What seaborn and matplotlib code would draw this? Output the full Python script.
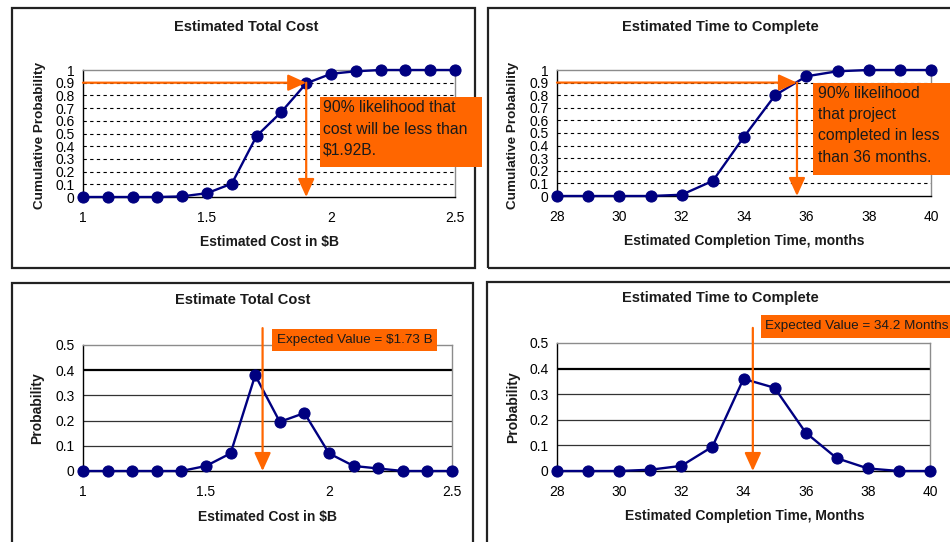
# Monte Carlo project estimate - cost and schedule distributions
import matplotlib
matplotlib.use('Agg')
import matplotlib.pyplot as plt
from matplotlib.patches import Rectangle
from matplotlib.ticker import FormatStrFormatter
import seaborn as sns
import pandas as pd

# data
cost_b = [1.0, 1.1, 1.2, 1.3, 1.4, 1.5, 1.6, 1.7, 1.8, 1.9, 2.0, 2.1, 2.2, 2.3, 2.4, 2.5]
cost_cum = [0, 0, 0, 0, 0.005, 0.03, 0.105, 0.48, 0.67, 0.895, 0.97, 0.99, 1.0, 1.0, 1.0, 1.0]
cost_prob = [0, 0, 0, 0, 0, 0.02, 0.07, 0.38, 0.195, 0.23, 0.07, 0.02, 0.01, 0, 0, 0]

months = [28, 29, 30, 31, 32, 33, 34, 35, 36, 37, 38, 39, 40]
time_cum = [0, 0, 0, 0, 0.01, 0.12, 0.47, 0.80, 0.95, 0.99, 1.0, 1.0, 1.0]
time_prob = [0, 0, 0, 0.005, 0.02, 0.095, 0.36, 0.325, 0.15, 0.05, 0.01, 0, 0]

cost_p90 = 1.9
time_p90 = 35.7
cost_ev = 1.73
time_ev = 34.3

sns.set_style('white')
plt.rcParams['font.family'] = ['Liberation Sans', 'DejaVu Sans']

W, H = 950, 542
NAVY = '#000080'
ORANGE = '#FF6600'
TXT = '#1a1a1a'


def fx(x):
    return x / W


def fy(y):
    return 1 - y / H


def rect(l, t, r, b):
    return [fx(l), fy(b), fx(r - l), (b - t) / H]


fig = plt.figure(figsize=(9.5, 5.42), dpi=100)

# panel frames
for l, t, r, b in [(12, 8, 475, 268), (488, 8, 960, 268), (12, 283, 473, 560), (487, 282, 960, 560)]:
    fig.add_artist(Rectangle((fx(l), fy(b)), fx(r - l), (b - t) / H, transform=fig.transFigure,
                             fill=False, ec='#222222', lw=1.6))


def setup_axes(ax, box, ymax, ystep, xticks, xlim, cumulative):
    ax.set_xlim(xlim)
    ax.set_ylim(0, ymax)
    ax.set_xticks(xticks)
    n = int(round(ymax / ystep))
    ax.set_yticks([i * ystep for i in range(n + 1)])
    ax.yaxis.set_major_formatter(FormatStrFormatter('%g'))
    ax.xaxis.set_major_formatter(FormatStrFormatter('%g'))
    ax.tick_params(axis='both', labelsize=10, colors='black', direction='inout',
                   length=6, width=0.8, pad=3)
    ax.tick_params(axis='x', pad=7)
    for s in ['left', 'bottom']:
        ax.spines[s].set_color('black')
        ax.spines[s].set_linewidth(1)
    for s in ['top', 'right']:
        ax.spines[s].set_color('#8c8c8c')
        ax.spines[s].set_linewidth(1)
    grid_vals = [i * ystep for i in range(1, n)]
    for g in grid_vals:
        if cumulative:
            ax.axhline(g, color='black', lw=0.8, ls=(0, (3, 3)), zorder=1)
        else:
            heavy = abs(g - 0.4) < 1e-9
            ax.axhline(g, color='black' if heavy else '#333333',
                       lw=1.6 if heavy else 0.9, zorder=1)


def draw_series(ax, x, y):
    df = pd.DataFrame({'x': x, 'y': y})
    sns.lineplot(data=df, x='x', y='y', ax=ax, color=NAVY, lw=1.7, marker='o',
                 markersize=8, markeredgecolor=NAVY, markerfacecolor=NAVY,
                 clip_on=False, zorder=5)


def arrow(ax, start, end):
    ax.annotate('', xy=end, xytext=start, xycoords='data', textcoords='data',
                annotation_clip=False,
                arrowprops=dict(arrowstyle='-|>,head_length=0.55,head_width=0.25',
                                mutation_scale=20, color=ORANGE, lw=1.6,
                                shrinkA=0, shrinkB=0), zorder=6)


def label_box(l, t, r, b, lines, text_x, line_ys, size):
    fig.add_artist(Rectangle((fx(l), fy(b)), fx(r - l), (b - t) / H, transform=fig.transFigure,
                             fc=ORANGE, ec='none', zorder=10))
    for line, y in zip(lines, line_ys):
        fig.text(fx(text_x), fy(y), line, fontsize=size, color=TXT, ha='left', va='center', zorder=11)


def labels(ax, title, title_xy, xlabel, xlabel_xy, ylabel, ylabel_x, ylabel_y, ysize):
    fig.text(fx(title_xy[0]), fy(title_xy[1]), title, fontsize=10.5, fontweight='bold',
             ha='center', va='center', color=TXT)
    ax.set_xlabel(xlabel, fontsize=10, fontweight='bold', color=TXT)
    ax.xaxis.set_label_coords(fx(xlabel_xy[0]), fy(xlabel_xy[1]), transform=fig.transFigure)
    ax.xaxis.label.set_va('center')
    ax.set_ylabel(ylabel, fontsize=ysize, fontweight='bold', color=TXT)
    ax.yaxis.set_label_coords(fx(ylabel_x), fy(ylabel_y), transform=fig.transFigure)
    ax.yaxis.label.set_va('center')


# ---- top left: cumulative cost ----
box = (83, 70, 455, 197)
ax1 = fig.add_axes(rect(*box))
draw_series(ax1, cost_b, cost_cum)
setup_axes(ax1, box, 1.0, 0.1, [1, 1.5, 2, 2.5], (1, 2.5), True)
labels(ax1, 'Estimated Total Cost', (246, 27), 'Estimated Cost in $B', (269, 242),
       'Cumulative Probability', 40, 135, 9.7)
arrow(ax1, (1.0, 0.9), (cost_p90, 0.9))
arrow(ax1, (cost_p90, 0.9), (cost_p90, 0.0))
label_box(320, 97, 482, 167, ['90% likelihood that', 'cost will be less than', '$1.92B.'],
          323, [108, 129, 150], 11.3)

# ---- top right: cumulative time ----
box = (557, 70, 931, 196)
ax2 = fig.add_axes(rect(*box))
draw_series(ax2, months, time_cum)
setup_axes(ax2, box, 1.0, 0.1, list(range(28, 41, 2)), (28, 40), True)
labels(ax2, 'Estimated Time to Complete', (720, 27), 'Estimated Completion Time, months',
       (744, 241), 'Cumulative Probability', 513, 135, 9.7)
arrow(ax2, (28, 0.9), (time_p90, 0.9))
arrow(ax2, (time_p90, 0.9), (time_p90, 0.0))
label_box(813, 83, 960, 175, ['90% likelihood', 'that project', 'completed in less', 'than 36 months.'],
          818, [94, 115, 136, 157], 11.3)

# ---- bottom left: cost probability ----
box = (83, 345, 452, 471)
ax3 = fig.add_axes(rect(*box))
draw_series(ax3, cost_b, cost_prob)
setup_axes(ax3, box, 0.5, 0.1, [1, 1.5, 2, 2.5], (1, 2.5), False)
labels(ax3, 'Estimate Total Cost', (243, 300), 'Estimated Cost in $B', (268, 517),
       'Probability', 37, 408, 10)
arrow(ax3, (cost_ev, 0.567), (cost_ev, 0.0))
label_box(272, 329, 437, 351, ['Expected Value = $1.73 B'], 277, [340], 9.7)

# ---- bottom right: time probability ----
box = (557, 343, 930, 471)
ax4 = fig.add_axes(rect(*box))
draw_series(ax4, months, time_prob)
setup_axes(ax4, box, 0.5, 0.1, list(range(28, 41, 2)), (28, 40), False)
labels(ax4, 'Estimated Time to Complete', (720, 298), 'Estimated Completion Time, Months',
       (745, 516), 'Probability', 513, 407, 10)
arrow(ax4, (time_ev, 0.559), (time_ev, 0.0))
label_box(761, 315, 960, 338, ['Expected Value = 34.2 Months'], 765, [326], 9.7)

for ax in [ax1, ax2, ax3, ax4]:
    leg = ax.get_legend()
    if leg is not None:
        leg.remove()

fig.savefig('out.png', dpi=100)
